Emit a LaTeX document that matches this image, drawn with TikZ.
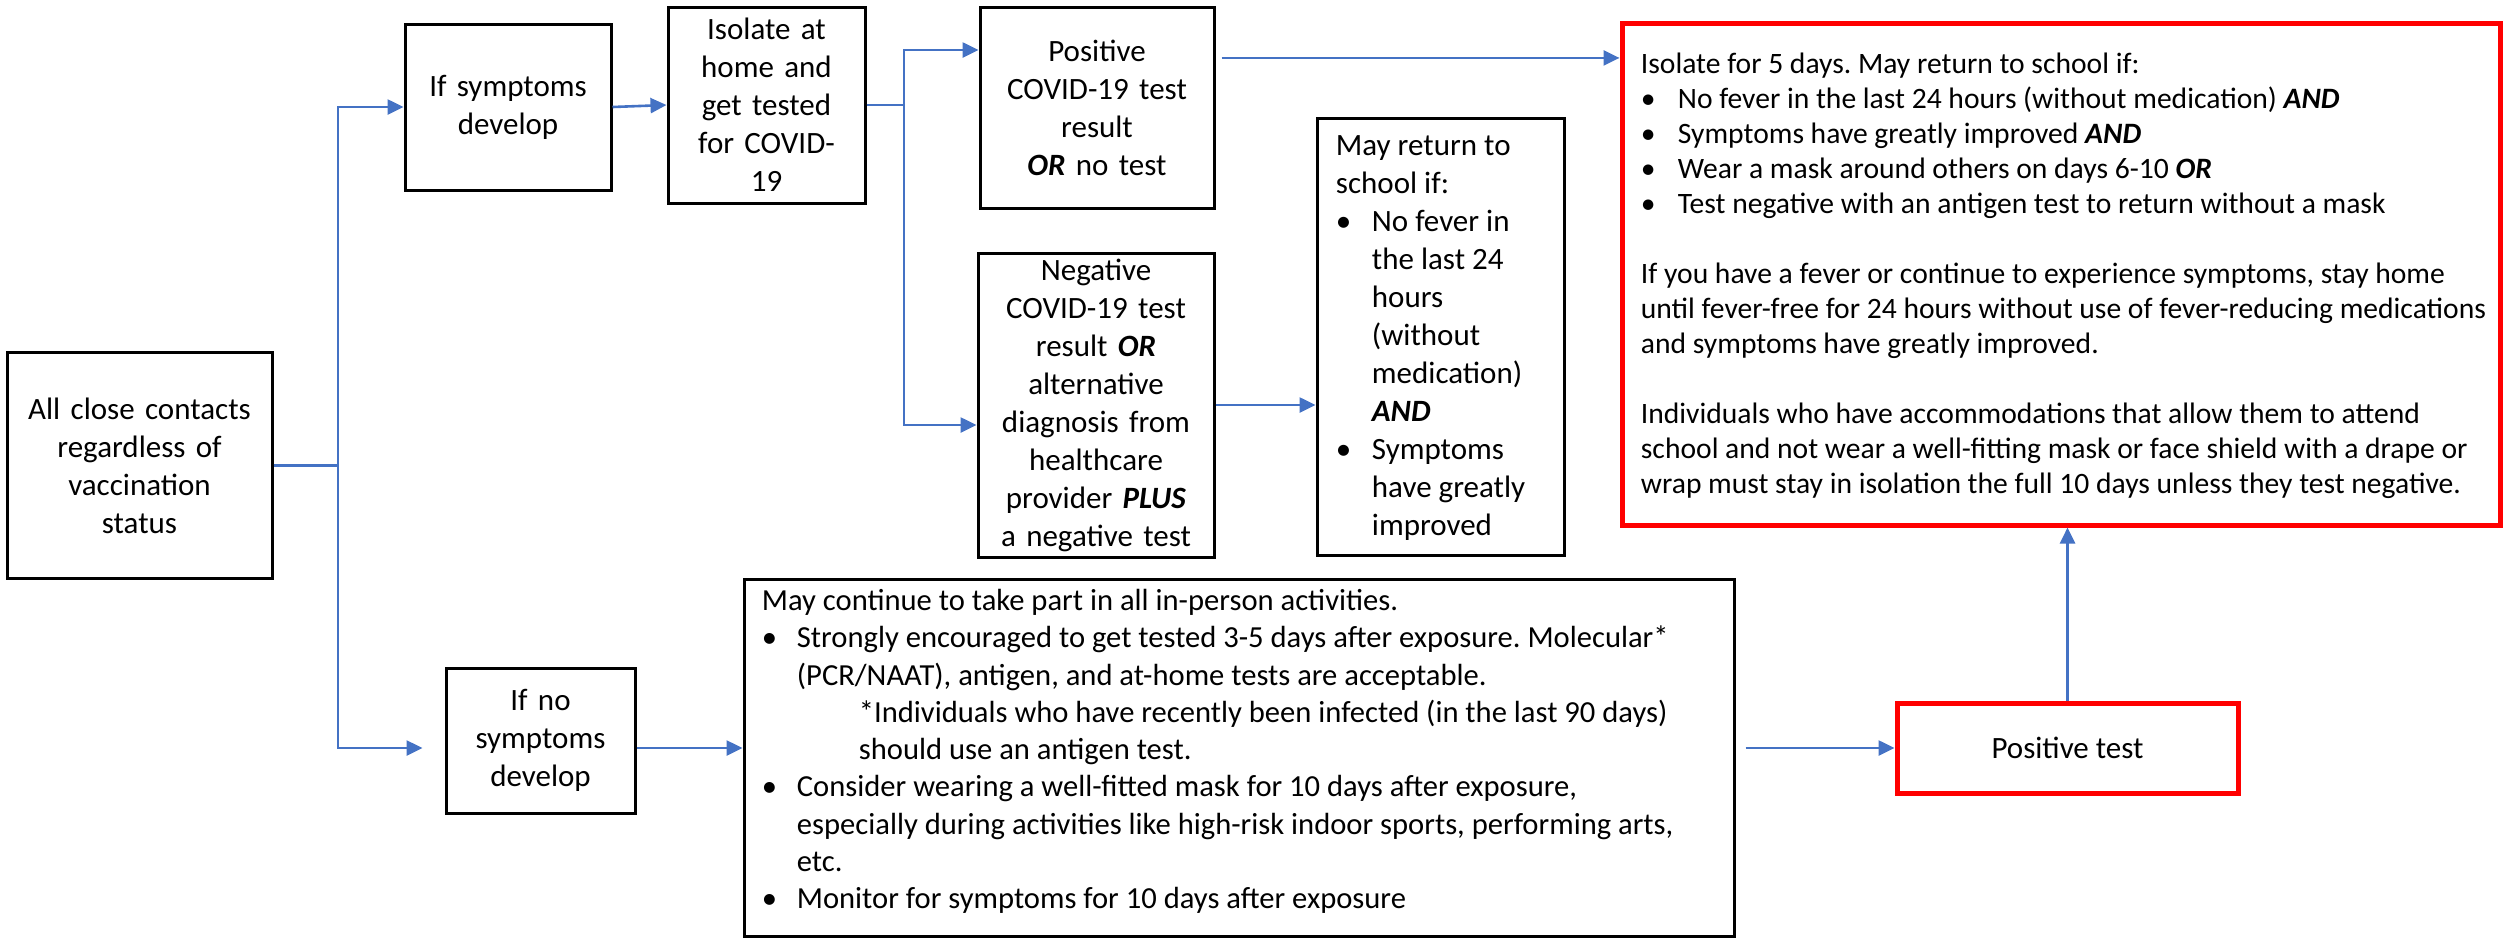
\documentclass[tikz,border=0pt]{standalone}
\usepackage{fontspec}
\setmainfont{Carlito}
\usetikzlibrary{arrows.meta,calc}
\definecolor{linkblue}{HTML}{4472C4}
\definecolor{alertred}{HTML}{FF0000}
\newcommand\bi[1]{\textbf{\textit{#1}}}
\newcommand\bul[1]{\makebox[#1][l]{\textbullet}}
\newcommand\fsbox{\fontsize{15.5pt}{19pt}\selectfont}
\newcommand\fsred{\fontsize{14.8pt}{17.5pt}\selectfont}
\newcommand\fscont{\fontsize{15.3pt}{18.65pt}\selectfont}
\frenchspacing

\begin{document}
\begin{tikzpicture}[x=0.5pt,y=-0.5pt,
  box/.style={draw=black, line width=1.5pt, inner sep=0pt, align=center, font=\fsbox},
  alertbox/.style={draw=alertred, line width=2.5pt, inner sep=0pt, align=center, font=\fsbox},
  boxtext/.style={anchor=west, inner sep=0pt, align=left},
  conn/.style={draw=linkblue, line width=1.3pt, -{Triangle[length=8pt,width=7.5pt]}}]

\useasboundingbox (0,0) rectangle (2504,939);

% left column
\node[box, minimum width=132.5pt, minimum height=113pt, text width=128pt] (close) at (139.5,465.5)
  {All close contacts\\regardless of\\vaccination\\status};
\node[box, minimum width=103pt, minimum height=83pt, text width=98pt] (ifsym) at (508,107)
  {If symptoms\\develop};
\node[box, minimum width=94.5pt, minimum height=72.5pt, text width=90pt] (ifno) at (540.5,740.5)
  {If no\\symptoms\\develop};
\node[box, minimum width=98.5pt, minimum height=98pt, text width=95pt] (iso) at (766.5,105)
  {Isolate at\\home and\\get tested\\for COVID-\\19};

% test results
\node[box, minimum width=117pt, minimum height=100.5pt, text width=112pt] (pos) at (1097,107.5)
  {Positive\\COVID-19 test\\result\\\bi{OR} no test};
\node[box, minimum width=118pt, minimum height=152pt, text width=114pt] (neg) at (1096,405)
  {Negative\\COVID-19 test\\result \bi{OR}\\alternative\\diagnosis from\\healthcare\\provider \bi{PLUS}\\a negative test};

% return after negative test
\node[box, minimum width=123.5pt, minimum height=218.5pt] (ret) at (1440.5,336.5) {};
\node[boxtext, font=\fsbox] (rettext) at ($(ret.west)+(20,1.5)$)
  {May return to\\school if:\\
   \bul{18pt}No fever in\\\hspace*{18pt}the last 24\\\hspace*{18pt}hours\\
   \hspace*{18pt}(without\\\hspace*{18pt}medication)\\\hspace*{18pt}\bi{AND}\\
   \bul{18pt}Symptoms\\\hspace*{18pt}have greatly\\\hspace*{18pt}improved};

% isolation rules
\node[alertbox, minimum width=439pt, minimum height=251pt] (isol) at (2061,274) {};
\node[boxtext, font=\fsred] (isoltext) at ($(isol.west)+(21,2)$)
  {Isolate for 5 days. May return to school if:\\
   \bul{18.5pt}No fever in the last 24 hours (without medication) \bi{AND}\\
   \bul{18.5pt}Symptoms have greatly improved \bi{AND}\\
   \bul{18.5pt}Wear a mask around others on days 6-10 \bi{OR}\\
   \bul{18.5pt}Test negative with an antigen test to return without a mask\\[17.5pt]
   If you have a fever or continue to experience symptoms, stay home\\
   until fever-free for 24 hours without use of fever-reducing medications\\
   and symptoms have greatly improved.\\[17.5pt]
   Individuals who have accommodations that allow them to attend\\
   school and not wear a well-fitting mask or face shield with a drape or\\
   wrap must stay in isolation the full 10 days unless they test negative.};

% no symptoms branch
\node[box, minimum width=495pt, minimum height=178.5pt] (cont) at (1239,757.5) {};
\node[boxtext, font=\fscont] (conttext) at ($(cont.west)+(19,-6)$)
  {May continue to take part in all in-person activities.\\
   \bul{17.5pt}Strongly encouraged to get tested 3-5 days after exposure. Molecular*\\
   \hspace*{17.5pt}(PCR/NAAT), antigen, and at-home tests are acceptable.\\
   \hspace*{48.5pt}*Individuals who have recently been infected (in the last 90 days)\\
   \hspace*{48.5pt}should use an antigen test.\\
   \bul{17.5pt}Consider wearing a well-fitted mask for 10 days after exposure,\\
   \hspace*{17.5pt}especially during activities like high-risk indoor sports, performing arts,\\
   \hspace*{17.5pt}etc.\\
   \bul{17.5pt}Monitor for symptoms for 10 days after exposure};

\node[alertbox, minimum width=170.5pt, minimum height=45pt] (postest) at (2067.5,748) {Positive test};

% connectors
\coordinate (busT) at (338,107);
\coordinate (busB) at (338,748);
\coordinate (forkT) at (904,50);
\coordinate (forkB) at (904,425);
\coordinate (p2r) at ($(pos.north east)!0.257!(pos.south east)$);

\draw[conn] (close.east) -| (busT) -- (ifsym.west);
\draw[conn, shorten >=11pt] (close.east) -| (busB) -- (busB -| ifno.west);
\draw[conn] (ifsym.east) -- (iso.west);
\draw[conn] (iso.east) -| (forkT) -- (forkT -| pos.west);
\draw[conn] (iso.east) -| (forkB) -- (forkB -| neg.west);
\draw[conn, shorten <=3pt] (p2r) -- (p2r -| isol.west);
\draw[conn] (neg.east) -- (neg.east -| ret.west);
\draw[conn] (busB -| ifno.east) -- (busB -| cont.west);
\draw[conn, shorten <=5pt] (postest.west -| cont.east) -- (postest.west);
\draw[conn] (postest.north) -- (postest.north |- isol.south);
\end{tikzpicture}
\end{document}
